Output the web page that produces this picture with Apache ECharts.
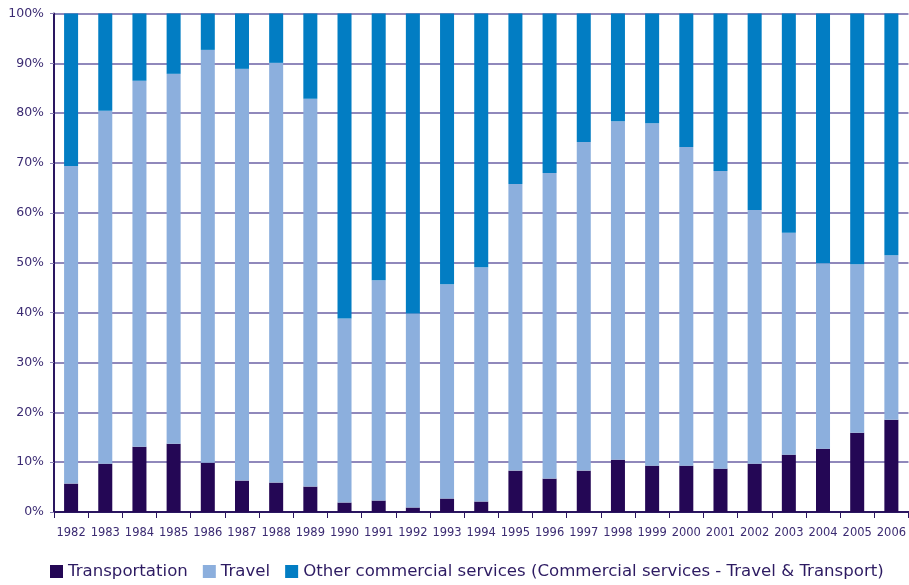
<!DOCTYPE html>
<html>
<head>
<meta charset="utf-8">
<script src="https://cdn.jsdelivr.net/npm/echarts@6/dist/echarts.min.js"></script>
<style>html,body{margin:0;padding:0;background:#fff}#c{width:909px;height:585px}</style>
</head>
<body>
<div id="c"></div>
<script>
const years = ['1982','1983','1984','1985','1986','1987','1988','1989','1990','1991','1992','1993','1994','1995','1996','1997','1998','1999','2000','2001','2002','2003','2004','2005','2006'];
const transportation = [5.7,9.7,13.1,13.7,9.9,6.3,5.9,5.1,1.9,2.3,0.9,2.7,2.1,8.3,6.7,8.3,10.5,9.3,9.3,8.7,9.7,11.5,12.7,15.9,18.5];
const travel = [63.7,70.8,73.4,74.2,82.8,82.6,84.2,77.8,36.9,44.2,38.9,43.0,47.0,57.5,61.3,65.9,67.9,68.7,63.9,59.7,50.9,44.5,37.2,33.8,33.0];
const other = [30.6,19.5,13.5,12.1,7.3,11.1,9.9,17.1,61.2,53.5,60.2,54.3,50.9,34.2,32.0,25.8,21.6,22.0,26.8,31.6,39.4,44.0,50.1,50.3,48.5];
const seriesNames = ['Transportation','Travel','Other commercial services (Commercial services - Travel & Transport)'];

const textColor = '#3b2b72';
const chart = echarts.init(document.getElementById('c'));
chart.setOption({
  animation: false,
  textStyle: {fontFamily: 'DejaVu Sans'},
  grid: {left: 54, right: 0, top: 13.5, bottom: 73, containLabel: false},
  legend: {
    left: 45, bottom: 0, width: 900, icon: 'rect', itemWidth: 13, itemHeight: 13, itemGap: 15,
    textStyle: {fontSize: 16.6, color: '#2d1b62', fontFamily: 'DejaVu Sans'},
    data: seriesNames
  },
  xAxis: {
    type: 'category', data: years,
    axisLine: {lineStyle: {color: '#2a1660', width: 2}},
    axisTick: {show: true, length: 6, lineStyle: {color: '#2a1660', width: 1}},
    axisLabel: {color: textColor, fontSize: 11.5, margin: 15, interval: 0}
  },
  yAxis: {
    type: 'value', min: 0, max: 100, interval: 10,
    axisLine: {show: true, lineStyle: {color: '#2a1660', width: 2}},
    axisTick: {show: true, length: 4, lineStyle: {color: '#8a80b4'}},
    axisLabel: {formatter: '{value}%', color: textColor, fontSize: 12.5, margin: 10},
    splitLine: {show: true, lineStyle: {color: '#9088bb', width: 2}}
  },
  series: [
    {name: seriesNames[0], type: 'bar', stack: 's', data: transportation, barWidth: '41%', itemStyle: {color: '#240755'}},
    {name: seriesNames[1], type: 'bar', stack: 's', data: travel, barWidth: '41%', itemStyle: {color: '#8cafdd'}},
    {name: seriesNames[2], type: 'bar', stack: 's', data: other, barWidth: '41%', itemStyle: {color: '#027dc3'}}
  ]
});
</script>
</body>
</html>
